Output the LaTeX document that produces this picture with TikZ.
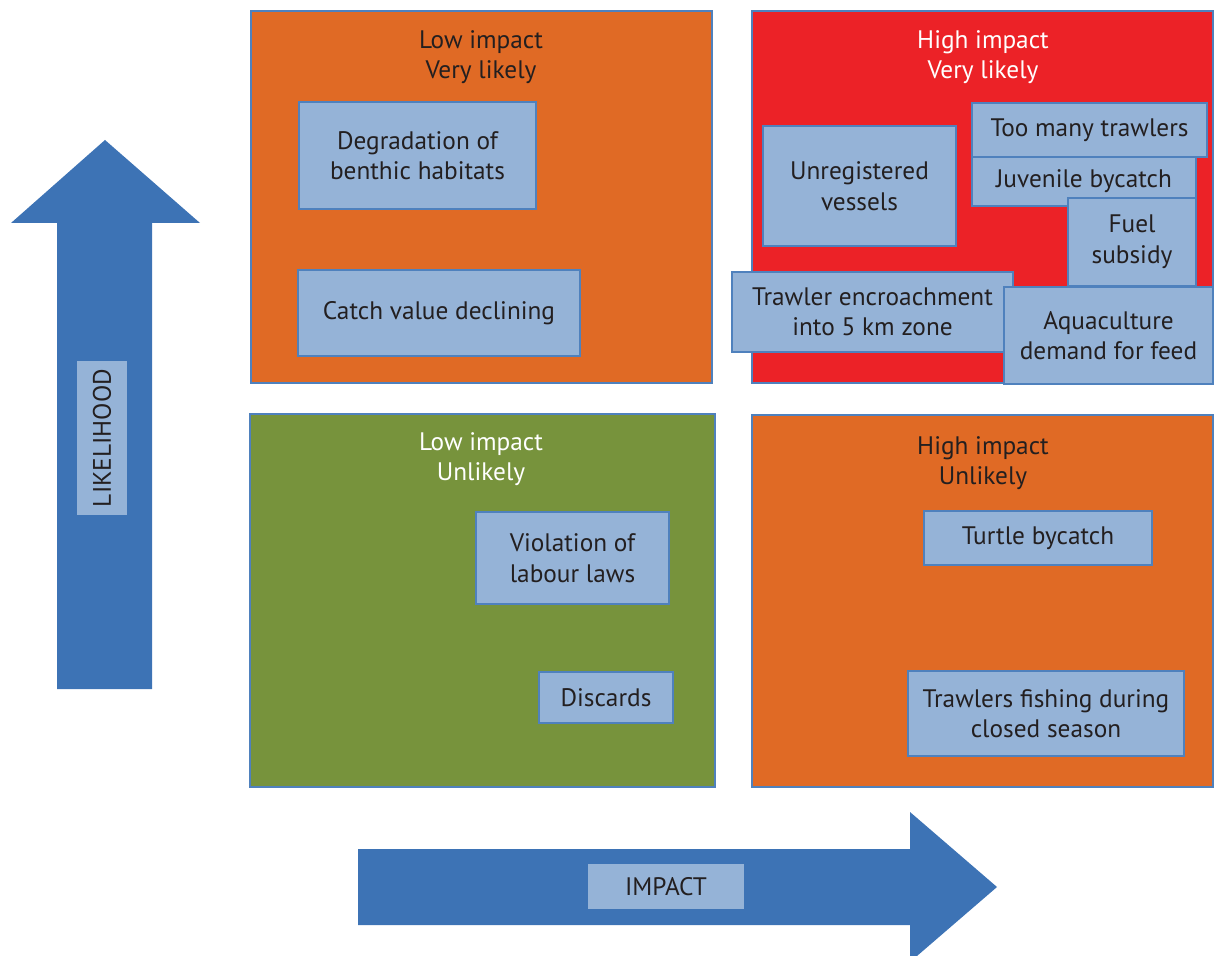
\documentclass[tikz,border=0pt]{standalone}
\usepackage{fontspec}
\setmainfont{PT Sans}
\usepackage{tikz}
\usetikzlibrary{positioning}

\definecolor{qorange}{RGB}{224,106,37}
\definecolor{qred}{RGB}{236,34,39}
\definecolor{qgreen}{RGB}{119,147,60}
\definecolor{axisblue}{RGB}{61,115,181}
\definecolor{boxblue}{RGB}{149,179,215}
\definecolor{edgeblue}{RGB}{79,129,189}
\definecolor{inkgrey}{RGB}{35,31,32}

\begin{document}
\begin{tikzpicture}[y=-1cm, font=\fontsize{14.4}{17.4}\selectfont]
        \tikzstyle{quad} = [rectangle, draw=edgeblue, line width=1pt, inner sep=0pt]
        \tikzstyle{title} = [align=center, text=inkgrey]
        \tikzstyle{risk} = [rectangle, draw=edgeblue, line width=1pt, fill=boxblue, align=center, text=inkgrey, inner sep=2pt]
        \tikzstyle{axislabel} = [rectangle, fill=boxblue, text=inkgrey, inner sep=0pt]

        \clip (0,0) rectangle (24.28,19.12);

        % axis arrows
        \fill [axisblue] (1.14,13.78) -- (1.14,4.46) -- (0.22,4.46) -- (2.10,2.80) -- (4.00,4.46) -- (3.04,4.46) -- (3.04,13.78) -- cycle;
        \fill [axisblue] (7.16,16.98) -- (18.20,16.98) -- (18.20,16.24) -- (19.94,17.74) -- (18.20,19.24) -- (18.20,18.50) -- (7.16,18.50) -- cycle;
        \node (likelihood) [axislabel, rotate=90, minimum width=3.08cm, minimum height=1.00cm] at (2.04,8.76) {LIKELIHOOD};
        \node (impact) [axislabel, minimum width=3.12cm, minimum height=0.90cm] at (13.32,17.73) {IMPACT};

        % quadrants
        \node (lowvl) [quad, fill=qorange, minimum width=9.22cm, minimum height=7.44cm] at (9.63,3.94) {};
        \node (highvl) [quad, fill=qred, minimum width=9.22cm, minimum height=7.44cm] at (19.65,3.94) {};
        \node (lowun) [quad, fill=qgreen, minimum width=9.30cm, minimum height=7.46cm] at (9.65,12.01) {};
        \node (highun) [quad, fill=qorange, minimum width=9.22cm, minimum height=7.44cm] at (19.65,12.02) {};

        \node (lowvltitle) [title] at (9.62,1.14) {Low impact\\Very likely};
        \node (highvltitle) [title, text=white] at (19.66,1.14) {High impact\\Very likely};
        \node (lowuntitle) [title, text=white] at (9.62,9.18) {Low impact\\Unlikely};
        \node (highuntitle) [title] at (19.66,9.26) {High impact\\Unlikely};

        % low impact, very likely
        \node (benthic) [risk, minimum width=4.74cm, minimum height=2.14cm] at (8.35,3.11) {Degradation of\\benthic habitats};
        \node (catch) [risk, minimum width=5.64cm, minimum height=1.72cm] at (8.78,6.26) {Catch value declining};

        % high impact, very likely
        \node (unreg) [risk, minimum width=3.86cm, minimum height=2.40cm] at (17.19,3.72) {Unregistered\\vessels};
        \node (toomany) [risk, minimum width=4.70cm, minimum height=1.08cm] at (21.79,2.60) {Too many trawlers};
        \node (juvenile) [risk, minimum width=4.48cm, minimum height=0.98cm] at (21.68,3.63) {Juvenile bycatch};
        \node (fuel) [risk, minimum width=2.56cm, minimum height=1.76cm] at (22.64,4.84) {Fuel\\subsidy};
        \node (encroach) [risk, minimum width=5.62cm, minimum height=1.60cm] at (17.45,6.24) {Trawler encroachment\\into 5 km zone};
        \node (aqua) [risk, minimum width=4.18cm, minimum height=1.94cm] at (22.17,6.71) {Aquaculture\\demand for feed};

        % low impact, unlikely
        \node (labour) [risk, minimum width=3.86cm, minimum height=1.84cm] at (11.45,11.16) {Violation of\\labour laws};
        \node (discards) [risk, minimum width=2.68cm, minimum height=1.02cm] at (12.12,13.95) {Discards};

        % high impact, unlikely
        \node (turtle) [risk, minimum width=4.56cm, minimum height=1.08cm] at (20.76,10.76) {Turtle bycatch};
        \node (closed) [risk, minimum width=5.52cm, minimum height=1.70cm] at (20.92,14.27) {Trawlers fishing during\\closed season};
    \end{tikzpicture}
\end{document}
